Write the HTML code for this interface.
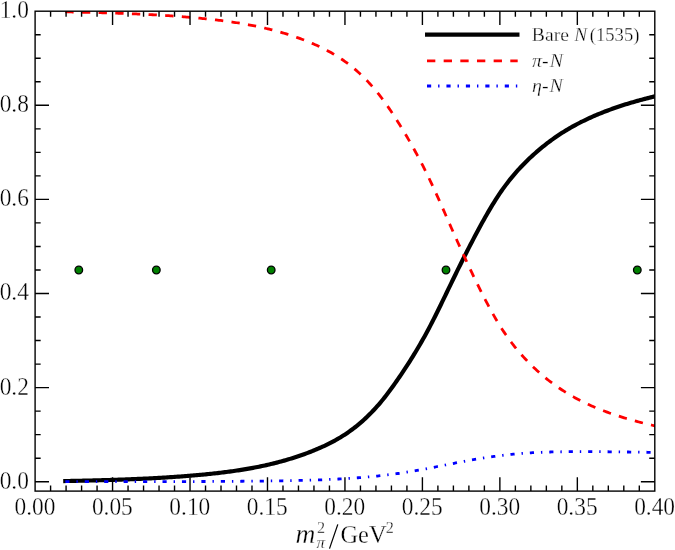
<!DOCTYPE html>
<html><head><meta charset="utf-8"><title>chart</title>
<style>
html,body{margin:0;padding:0;background:#fff;}
body{width:675px;height:550px;overflow:hidden;position:relative;font-family:"Liberation Serif",serif;}
svg{position:absolute;left:0;top:0;}
text{font-family:"Liberation Serif",serif;fill:#000;stroke:#fff;stroke-width:0.3px;}
.tl{font-size:24px;}
.lg{font-size:18.6px;}
i,.it{font-style:italic;}
</style></head><body>
<svg width="675" height="550" viewBox="0 0 675 550">
<rect x="0" y="0" width="675" height="550" fill="#ffffff"/>
<defs><clipPath id="ax"><rect x="35.10" y="11.20" width="619.70" height="479.90"/></clipPath></defs>

<g clip-path="url(#ax)" fill="none">
<path d="M65.30,481.07 L66.78,481.04 L68.26,481.01 L69.74,480.98 L71.21,480.94 L72.69,480.91 L74.17,480.88 L75.65,480.85 L77.13,480.81 L78.61,480.78 L80.08,480.74 L81.56,480.71 L83.04,480.68 L84.52,480.64 L86.00,480.61 L87.48,480.57 L88.96,480.53 L90.43,480.50 L91.91,480.46 L93.39,480.42 L94.87,480.38 L96.35,480.35 L97.83,480.31 L99.30,480.27 L100.78,480.23 L102.26,480.18 L103.74,480.14 L105.22,480.10 L106.70,480.06 L108.17,480.01 L109.65,479.97 L111.13,479.92 L112.61,479.88 L114.09,479.83 L115.57,479.78 L117.05,479.73 L118.52,479.68 L120.00,479.63 L121.48,479.58 L122.96,479.53 L124.44,479.47 L125.92,479.42 L127.39,479.36 L128.87,479.31 L130.35,479.25 L131.83,479.19 L133.31,479.13 L134.79,479.07 L136.27,479.00 L137.74,478.94 L139.22,478.88 L140.70,478.81 L142.18,478.74 L143.66,478.67 L145.14,478.60 L146.61,478.53 L148.09,478.46 L149.57,478.38 L151.05,478.31 L152.53,478.23 L154.01,478.15 L155.49,478.07 L156.96,477.99 L158.44,477.91 L159.92,477.82 L161.40,477.74 L162.88,477.65 L164.36,477.56 L165.83,477.47 L167.31,477.38 L168.79,477.28 L170.27,477.19 L171.75,477.09 L173.23,476.99 L174.71,476.89 L176.18,476.79 L177.66,476.68 L179.14,476.57 L180.62,476.47 L182.10,476.35 L183.58,476.24 L185.05,476.13 L186.53,476.01 L188.01,475.89 L189.49,475.77 L190.97,475.65 L192.45,475.53 L193.92,475.40 L195.40,475.27 L196.88,475.14 L198.36,475.01 L199.84,474.87 L201.32,474.73 L202.80,474.60 L204.27,474.45 L205.75,474.31 L207.23,474.16 L208.71,474.01 L210.19,473.86 L211.67,473.71 L213.14,473.55 L214.62,473.39 L216.10,473.23 L217.58,473.06 L219.06,472.89 L220.54,472.72 L222.02,472.54 L223.49,472.36 L224.97,472.18 L226.45,471.99 L227.93,471.80 L229.41,471.60 L230.89,471.40 L232.36,471.20 L233.84,470.99 L235.32,470.77 L236.80,470.56 L238.28,470.34 L239.76,470.11 L241.24,469.88 L242.71,469.64 L244.19,469.40 L245.67,469.15 L247.15,468.90 L248.63,468.65 L250.11,468.38 L251.58,468.12 L253.06,467.84 L254.54,467.56 L256.02,467.28 L257.50,466.99 L258.98,466.69 L260.45,466.39 L261.93,466.08 L263.41,465.76 L264.89,465.44 L266.37,465.11 L267.85,464.77 L269.33,464.43 L270.80,464.08 L272.28,463.73 L273.76,463.36 L275.24,462.99 L276.72,462.62 L278.20,462.23 L279.67,461.84 L281.15,461.44 L282.63,461.03 L284.11,460.62 L285.59,460.19 L287.07,459.76 L288.55,459.32 L290.02,458.87 L291.50,458.42 L292.98,457.95 L294.46,457.48 L295.94,457.00 L297.42,456.51 L298.89,456.01 L300.37,455.50 L301.85,454.99 L303.33,454.46 L304.81,453.93 L306.29,453.38 L307.77,452.83 L309.24,452.26 L310.72,451.69 L312.20,451.11 L313.68,450.52 L315.16,449.91 L316.64,449.30 L318.11,448.67 L319.59,448.04 L321.07,447.38 L322.55,446.72 L324.03,446.04 L325.51,445.35 L326.98,444.63 L328.46,443.91 L329.94,443.16 L331.42,442.40 L332.90,441.62 L334.38,440.82 L335.86,440.00 L337.33,439.16 L338.81,438.30 L340.29,437.42 L341.77,436.51 L343.25,435.58 L344.73,434.63 L346.20,433.65 L347.68,432.65 L349.16,431.62 L350.64,430.56 L352.12,429.48 L353.60,428.37 L355.08,427.23 L356.55,426.06 L358.03,424.86 L359.51,423.63 L360.99,422.37 L362.47,421.07 L363.95,419.75 L365.42,418.39 L366.90,416.99 L368.38,415.56 L369.86,414.10 L371.34,412.60 L372.82,411.06 L374.30,409.49 L375.77,407.87 L377.25,406.22 L378.73,404.53 L380.21,402.80 L381.69,401.02 L383.17,399.21 L384.64,397.36 L386.12,395.46 L387.60,393.54 L389.08,391.58 L390.56,389.58 L392.04,387.55 L393.52,385.50 L394.99,383.41 L396.47,381.30 L397.95,379.17 L399.43,377.01 L400.91,374.82 L402.39,372.62 L403.86,370.40 L405.34,368.15 L406.82,365.89 L408.30,363.59 L409.78,361.28 L411.26,358.93 L412.73,356.56 L414.21,354.16 L415.69,351.72 L417.17,349.26 L418.65,346.76 L420.13,344.23 L421.61,341.66 L423.08,339.05 L424.56,336.40 L426.04,333.72 L427.52,330.99 L429.00,328.22 L430.48,325.40 L431.95,322.55 L433.43,319.65 L434.91,316.72 L436.39,313.76 L437.87,310.78 L439.35,307.77 L440.83,304.74 L442.30,301.69 L443.78,298.64 L445.26,295.57 L446.74,292.50 L448.22,289.44 L449.70,286.37 L451.17,283.31 L452.65,280.27 L454.13,277.23 L455.61,274.21 L457.09,271.20 L458.57,268.20 L460.05,265.22 L461.52,262.25 L463.00,259.30 L464.48,256.36 L465.96,253.44 L467.44,250.54 L468.92,247.65 L470.39,244.78 L471.87,241.93 L473.35,239.10 L474.83,236.29 L476.31,233.49 L477.79,230.72 L479.26,227.98 L480.74,225.26 L482.22,222.57 L483.70,219.91 L485.18,217.28 L486.66,214.68 L488.14,212.12 L489.61,209.60 L491.09,207.12 L492.57,204.67 L494.05,202.28 L495.53,199.93 L497.01,197.62 L498.48,195.37 L499.96,193.17 L501.44,191.02 L502.92,188.92 L504.40,186.87 L505.88,184.87 L507.36,182.92 L508.83,181.02 L510.31,179.16 L511.79,177.34 L513.27,175.57 L514.75,173.83 L516.23,172.14 L517.70,170.48 L519.18,168.86 L520.66,167.27 L522.14,165.71 L523.62,164.19 L525.10,162.69 L526.58,161.23 L528.05,159.79 L529.53,158.37 L531.01,156.98 L532.49,155.62 L533.97,154.27 L535.45,152.95 L536.92,151.66 L538.40,150.39 L539.88,149.14 L541.36,147.91 L542.84,146.70 L544.32,145.52 L545.79,144.36 L547.27,143.21 L548.75,142.09 L550.23,140.99 L551.71,139.91 L553.19,138.85 L554.67,137.81 L556.14,136.78 L557.62,135.78 L559.10,134.79 L560.58,133.82 L562.06,132.87 L563.54,131.94 L565.01,131.02 L566.49,130.12 L567.97,129.24 L569.45,128.37 L570.93,127.52 L572.41,126.68 L573.89,125.86 L575.36,125.06 L576.84,124.27 L578.32,123.49 L579.80,122.73 L581.28,121.98 L582.76,121.24 L584.23,120.52 L585.71,119.80 L587.19,119.11 L588.67,118.42 L590.15,117.74 L591.63,117.08 L593.11,116.42 L594.58,115.78 L596.06,115.15 L597.54,114.53 L599.02,113.91 L600.50,113.31 L601.98,112.72 L603.45,112.13 L604.93,111.56 L606.41,110.99 L607.89,110.43 L609.37,109.88 L610.85,109.34 L612.33,108.81 L613.80,108.28 L615.28,107.77 L616.76,107.26 L618.24,106.76 L619.72,106.26 L621.20,105.78 L622.67,105.30 L624.15,104.83 L625.63,104.36 L627.11,103.90 L628.59,103.45 L630.07,103.01 L631.54,102.57 L633.02,102.14 L634.50,101.71 L635.98,101.29 L637.46,100.88 L638.94,100.47 L640.42,100.06 L641.89,99.67 L643.37,99.27 L644.85,98.88 L646.33,98.50 L647.81,98.12 L649.29,97.75 L650.76,97.38 L652.24,97.01 L653.72,96.65 L655.20,96.29" stroke="#000" stroke-width="4.17" stroke-linecap="square" stroke-linejoin="round"/>
<path d="M65.30,11.83 L66.78,11.87 L68.26,11.90 L69.74,11.94 L71.21,11.97 L72.69,12.01 L74.17,12.04 L75.65,12.08 L77.13,12.11 L78.61,12.15 L80.08,12.18 L81.56,12.22 L83.04,12.26 L84.52,12.29 L86.00,12.33 L87.48,12.37 L88.96,12.40 L90.43,12.44 L91.91,12.48 L93.39,12.52 L94.87,12.56 L96.35,12.60 L97.83,12.64 L99.30,12.68 L100.78,12.72 L102.26,12.76 L103.74,12.81 L105.22,12.85 L106.70,12.89 L108.17,12.94 L109.65,12.98 L111.13,13.03 L112.61,13.08 L114.09,13.13 L115.57,13.17 L117.05,13.22 L118.52,13.28 L120.00,13.33 L121.48,13.38 L122.96,13.43 L124.44,13.49 L125.92,13.54 L127.39,13.60 L128.87,13.66 L130.35,13.71 L131.83,13.77 L133.31,13.84 L134.79,13.90 L136.27,13.96 L137.74,14.03 L139.22,14.09 L140.70,14.16 L142.18,14.23 L143.66,14.30 L145.14,14.37 L146.61,14.44 L148.09,14.52 L149.57,14.59 L151.05,14.67 L152.53,14.75 L154.01,14.83 L155.49,14.91 L156.96,14.99 L158.44,15.08 L159.92,15.16 L161.40,15.25 L162.88,15.34 L164.36,15.43 L165.83,15.53 L167.31,15.62 L168.79,15.72 L170.27,15.82 L171.75,15.92 L173.23,16.02 L174.71,16.12 L176.18,16.23 L177.66,16.34 L179.14,16.45 L180.62,16.56 L182.10,16.68 L183.58,16.79 L185.05,16.91 L186.53,17.03 L188.01,17.15 L189.49,17.28 L190.97,17.41 L192.45,17.54 L193.92,17.67 L195.40,17.80 L196.88,17.94 L198.36,18.08 L199.84,18.22 L201.32,18.36 L202.80,18.51 L204.27,18.65 L205.75,18.80 L207.23,18.96 L208.71,19.11 L210.19,19.27 L211.67,19.44 L213.14,19.60 L214.62,19.77 L216.10,19.94 L217.58,20.12 L219.06,20.29 L220.54,20.48 L222.02,20.66 L223.49,20.85 L224.97,21.05 L226.45,21.24 L227.93,21.44 L229.41,21.65 L230.89,21.86 L232.36,22.08 L233.84,22.30 L235.32,22.52 L236.80,22.75 L238.28,22.98 L239.76,23.22 L241.24,23.47 L242.71,23.71 L244.19,23.97 L245.67,24.23 L247.15,24.49 L248.63,24.77 L250.11,25.04 L251.58,25.33 L253.06,25.61 L254.54,25.91 L256.02,26.21 L257.50,26.52 L258.98,26.83 L260.45,27.15 L261.93,27.48 L263.41,27.81 L264.89,28.15 L266.37,28.50 L267.85,28.85 L269.33,29.21 L270.80,29.58 L272.28,29.95 L273.76,30.34 L275.24,30.73 L276.72,31.13 L278.20,31.53 L279.67,31.95 L281.15,32.37 L282.63,32.80 L284.11,33.24 L285.59,33.69 L287.07,34.14 L288.55,34.61 L290.02,35.08 L291.50,35.57 L292.98,36.06 L294.46,36.56 L295.94,37.08 L297.42,37.60 L298.89,38.13 L300.37,38.67 L301.85,39.22 L303.33,39.78 L304.81,40.36 L306.29,40.94 L307.77,41.54 L309.24,42.14 L310.72,42.76 L312.20,43.38 L313.68,44.02 L315.16,44.67 L316.64,45.34 L318.11,46.01 L319.59,46.70 L321.07,47.41 L322.55,48.13 L324.03,48.87 L325.51,49.62 L326.98,50.40 L328.46,51.19 L329.94,52.00 L331.42,52.83 L332.90,53.68 L334.38,54.55 L335.86,55.44 L337.33,56.36 L338.81,57.30 L340.29,58.26 L341.77,59.25 L343.25,60.26 L344.73,61.31 L346.20,62.37 L347.68,63.47 L349.16,64.59 L350.64,65.75 L352.12,66.93 L353.60,68.15 L355.08,69.39 L356.55,70.67 L358.03,71.98 L359.51,73.32 L360.99,74.70 L362.47,76.12 L363.95,77.57 L365.42,79.05 L366.90,80.58 L368.38,82.14 L369.86,83.74 L371.34,85.38 L372.82,87.06 L374.30,88.78 L375.77,90.54 L377.25,92.35 L378.73,94.20 L380.21,96.09 L381.69,98.02 L383.17,100.01 L384.64,102.03 L386.12,104.10 L387.60,106.20 L389.08,108.35 L390.56,110.53 L392.04,112.74 L393.52,114.99 L394.99,117.28 L396.47,119.59 L397.95,121.94 L399.43,124.31 L400.91,126.71 L402.39,129.13 L403.86,131.58 L405.34,134.05 L406.82,136.55 L408.30,139.08 L409.78,141.64 L411.26,144.24 L412.73,146.86 L414.21,149.52 L415.69,152.21 L417.17,154.94 L418.65,157.70 L420.13,160.50 L421.61,163.35 L423.08,166.23 L424.56,169.15 L426.04,172.12 L427.52,175.13 L429.00,178.18 L430.48,181.28 L431.95,184.42 L433.43,187.60 L434.91,190.82 L436.39,194.07 L437.87,197.35 L439.35,200.65 L440.83,203.97 L442.30,207.31 L443.78,210.66 L445.26,214.02 L446.74,217.38 L448.22,220.73 L449.70,224.09 L451.17,227.44 L452.65,230.77 L454.13,234.10 L455.61,237.40 L457.09,240.70 L458.57,243.98 L460.05,247.24 L461.52,250.49 L463.00,253.72 L464.48,256.93 L465.96,260.12 L467.44,263.29 L468.92,266.45 L470.39,269.58 L471.87,272.69 L473.35,275.79 L474.83,278.85 L476.31,281.90 L477.79,284.92 L479.26,287.91 L480.74,290.88 L482.22,293.81 L483.70,296.71 L485.18,299.57 L486.66,302.40 L488.14,305.18 L489.61,307.93 L491.09,310.63 L492.57,313.28 L494.05,315.89 L495.53,318.44 L497.01,320.95 L498.48,323.40 L499.96,325.79 L501.44,328.13 L502.92,330.41 L504.40,332.63 L505.88,334.80 L507.36,336.92 L508.83,338.99 L510.31,341.00 L511.79,342.97 L513.27,344.89 L514.75,346.77 L516.23,348.60 L517.70,350.39 L519.18,352.13 L520.66,353.84 L522.14,355.51 L523.62,357.14 L525.10,358.74 L526.58,360.31 L528.05,361.85 L529.53,363.35 L531.01,364.83 L532.49,366.28 L533.97,367.70 L535.45,369.09 L536.92,370.46 L538.40,371.80 L539.88,373.11 L541.36,374.40 L542.84,375.66 L544.32,376.90 L545.79,378.11 L547.27,379.30 L548.75,380.47 L550.23,381.61 L551.71,382.73 L553.19,383.83 L554.67,384.91 L556.14,385.96 L557.62,387.00 L559.10,388.01 L560.58,389.00 L562.06,389.98 L563.54,390.93 L565.01,391.87 L566.49,392.79 L567.97,393.69 L569.45,394.57 L570.93,395.43 L572.41,396.28 L573.89,397.11 L575.36,397.92 L576.84,398.72 L578.32,399.50 L579.80,400.27 L581.28,401.02 L582.76,401.76 L584.23,402.48 L585.71,403.19 L587.19,403.89 L588.67,404.57 L590.15,405.24 L591.63,405.90 L593.11,406.55 L594.58,407.18 L596.06,407.81 L597.54,408.42 L599.02,409.02 L600.50,409.61 L601.98,410.19 L603.45,410.76 L604.93,411.32 L606.41,411.88 L607.89,412.42 L609.37,412.95 L610.85,413.48 L612.33,413.99 L613.80,414.50 L615.28,415.00 L616.76,415.49 L618.24,415.97 L619.72,416.44 L621.20,416.91 L622.67,417.37 L624.15,417.82 L625.63,418.26 L627.11,418.70 L628.59,419.13 L630.07,419.56 L631.54,419.97 L633.02,420.39 L634.50,420.79 L635.98,421.19 L637.46,421.58 L638.94,421.97 L640.42,422.36 L641.89,422.74 L643.37,423.11 L644.85,423.48 L646.33,423.84 L647.81,424.20 L649.29,424.56 L650.76,424.91 L652.24,425.26 L653.72,425.60 L655.20,425.95" stroke="#ff0000" stroke-width="2.78" stroke-dasharray="8.33 8.33" stroke-linejoin="round"/>
<path d="M65.30,481.70 L66.78,481.69 L68.26,481.69 L69.74,481.69 L71.21,481.68 L72.69,481.68 L74.17,481.68 L75.65,481.68 L77.13,481.68 L78.61,481.67 L80.08,481.67 L81.56,481.67 L83.04,481.67 L84.52,481.67 L86.00,481.66 L87.48,481.66 L88.96,481.66 L90.43,481.66 L91.91,481.66 L93.39,481.66 L94.87,481.66 L96.35,481.66 L97.83,481.65 L99.30,481.65 L100.78,481.65 L102.26,481.65 L103.74,481.65 L105.22,481.65 L106.70,481.65 L108.17,481.65 L109.65,481.65 L111.13,481.65 L112.61,481.65 L114.09,481.65 L115.57,481.64 L117.05,481.64 L118.52,481.64 L120.00,481.64 L121.48,481.64 L122.96,481.64 L124.44,481.64 L125.92,481.64 L127.39,481.64 L128.87,481.64 L130.35,481.64 L131.83,481.64 L133.31,481.64 L134.79,481.64 L136.27,481.63 L137.74,481.63 L139.22,481.63 L140.70,481.63 L142.18,481.63 L143.66,481.63 L145.14,481.63 L146.61,481.63 L148.09,481.63 L149.57,481.62 L151.05,481.62 L152.53,481.62 L154.01,481.62 L155.49,481.62 L156.96,481.62 L158.44,481.61 L159.92,481.61 L161.40,481.61 L162.88,481.61 L164.36,481.61 L165.83,481.60 L167.31,481.60 L168.79,481.60 L170.27,481.60 L171.75,481.59 L173.23,481.59 L174.71,481.59 L176.18,481.58 L177.66,481.58 L179.14,481.58 L180.62,481.57 L182.10,481.57 L183.58,481.57 L185.05,481.56 L186.53,481.56 L188.01,481.55 L189.49,481.55 L190.97,481.54 L192.45,481.54 L193.92,481.53 L195.40,481.53 L196.88,481.52 L198.36,481.52 L199.84,481.51 L201.32,481.51 L202.80,481.50 L204.27,481.49 L205.75,481.49 L207.23,481.48 L208.71,481.47 L210.19,481.46 L211.67,481.46 L213.14,481.45 L214.62,481.44 L216.10,481.43 L217.58,481.43 L219.06,481.42 L220.54,481.41 L222.02,481.40 L223.49,481.39 L224.97,481.38 L226.45,481.37 L227.93,481.36 L229.41,481.35 L230.89,481.34 L232.36,481.33 L233.84,481.32 L235.32,481.30 L236.80,481.29 L238.28,481.28 L239.76,481.27 L241.24,481.26 L242.71,481.24 L244.19,481.23 L245.67,481.22 L247.15,481.20 L248.63,481.19 L250.11,481.17 L251.58,481.16 L253.06,481.14 L254.54,481.13 L256.02,481.11 L257.50,481.10 L258.98,481.08 L260.45,481.06 L261.93,481.05 L263.41,481.03 L264.89,481.01 L266.37,480.99 L267.85,480.98 L269.33,480.96 L270.80,480.94 L272.28,480.92 L273.76,480.90 L275.24,480.88 L276.72,480.86 L278.20,480.84 L279.67,480.81 L281.15,480.79 L282.63,480.77 L284.11,480.75 L285.59,480.72 L287.07,480.70 L288.55,480.67 L290.02,480.64 L291.50,480.61 L292.98,480.59 L294.46,480.56 L295.94,480.53 L297.42,480.49 L298.89,480.46 L300.37,480.43 L301.85,480.39 L303.33,480.35 L304.81,480.32 L306.29,480.28 L307.77,480.24 L309.24,480.20 L310.72,480.15 L312.20,480.11 L313.68,480.06 L315.16,480.01 L316.64,479.96 L318.11,479.91 L319.59,479.86 L321.07,479.81 L322.55,479.75 L324.03,479.69 L325.51,479.63 L326.98,479.57 L328.46,479.51 L329.94,479.44 L331.42,479.37 L332.90,479.30 L334.38,479.23 L335.86,479.16 L337.33,479.08 L338.81,479.00 L340.29,478.92 L341.77,478.84 L343.25,478.75 L344.73,478.67 L346.20,478.58 L347.68,478.48 L349.16,478.39 L350.64,478.29 L352.12,478.19 L353.60,478.09 L355.08,477.98 L356.55,477.87 L358.03,477.76 L359.51,477.65 L360.99,477.53 L362.47,477.41 L363.95,477.29 L365.42,477.16 L366.90,477.03 L368.38,476.90 L369.86,476.76 L371.34,476.62 L372.82,476.48 L374.30,476.34 L375.77,476.19 L377.25,476.03 L378.73,475.88 L380.21,475.72 L381.69,475.55 L383.17,475.39 L384.64,475.22 L386.12,475.04 L387.60,474.86 L389.08,474.68 L390.56,474.49 L392.04,474.30 L393.52,474.11 L394.99,473.91 L396.47,473.70 L397.95,473.50 L399.43,473.29 L400.91,473.07 L402.39,472.85 L403.86,472.62 L405.34,472.39 L406.82,472.16 L408.30,471.92 L409.78,471.68 L411.26,471.43 L412.73,471.18 L414.21,470.93 L415.69,470.67 L417.17,470.40 L418.65,470.14 L420.13,469.87 L421.61,469.60 L423.08,469.32 L424.56,469.05 L426.04,468.77 L427.52,468.49 L429.00,468.20 L430.48,467.92 L431.95,467.63 L433.43,467.34 L434.91,467.05 L436.39,466.76 L437.87,466.47 L439.35,466.18 L440.83,465.89 L442.30,465.60 L443.78,465.30 L445.26,465.01 L446.74,464.72 L448.22,464.43 L449.70,464.14 L451.17,463.85 L452.65,463.56 L454.13,463.27 L455.61,462.99 L457.09,462.70 L458.57,462.42 L460.05,462.14 L461.52,461.86 L463.00,461.59 L464.48,461.31 L465.96,461.04 L467.44,460.77 L468.92,460.50 L470.39,460.24 L471.87,459.98 L473.35,459.72 L474.83,459.46 L476.31,459.21 L477.79,458.96 L479.26,458.71 L480.74,458.47 L482.22,458.22 L483.70,457.99 L485.18,457.75 L486.66,457.52 L488.14,457.30 L489.61,457.08 L491.09,456.86 L492.57,456.65 L494.05,456.44 L495.53,456.23 L497.01,456.03 L498.48,455.83 L499.96,455.64 L501.44,455.45 L502.92,455.27 L504.40,455.09 L505.88,454.92 L507.36,454.76 L508.83,454.59 L510.31,454.44 L511.79,454.29 L513.27,454.14 L514.75,454.00 L516.23,453.86 L517.70,453.74 L519.18,453.61 L520.66,453.49 L522.14,453.38 L523.62,453.27 L525.10,453.16 L526.58,453.06 L528.05,452.97 L529.53,452.88 L531.01,452.79 L532.49,452.71 L533.97,452.63 L535.45,452.55 L536.92,452.48 L538.40,452.41 L539.88,452.35 L541.36,452.29 L542.84,452.23 L544.32,452.18 L545.79,452.13 L547.27,452.08 L548.75,452.04 L550.23,452.00 L551.71,451.96 L553.19,451.92 L554.67,451.89 L556.14,451.86 L557.62,451.83 L559.10,451.80 L560.58,451.77 L562.06,451.75 L563.54,451.73 L565.01,451.71 L566.49,451.69 L567.97,451.68 L569.45,451.66 L570.93,451.65 L572.41,451.64 L573.89,451.63 L575.36,451.62 L576.84,451.61 L578.32,451.61 L579.80,451.60 L581.28,451.60 L582.76,451.60 L584.23,451.60 L585.71,451.60 L587.19,451.61 L588.67,451.61 L590.15,451.61 L591.63,451.62 L593.11,451.63 L594.58,451.64 L596.06,451.65 L597.54,451.66 L599.02,451.67 L600.50,451.68 L601.98,451.69 L603.45,451.70 L604.93,451.72 L606.41,451.73 L607.89,451.75 L609.37,451.77 L610.85,451.78 L612.33,451.80 L613.80,451.82 L615.28,451.84 L616.76,451.85 L618.24,451.87 L619.72,451.89 L621.20,451.91 L622.67,451.93 L624.15,451.95 L625.63,451.97 L627.11,451.99 L628.59,452.01 L630.07,452.04 L631.54,452.06 L633.02,452.08 L634.50,452.10 L635.98,452.12 L637.46,452.14 L638.94,452.16 L640.42,452.18 L641.89,452.20 L643.37,452.22 L644.85,452.24 L646.33,452.26 L647.81,452.28 L649.29,452.29 L650.76,452.31 L652.24,452.33 L653.72,452.34 L655.20,452.36" stroke="#0000ff" stroke-width="2.78" stroke-dasharray="4.17 6.94 1.39 6.94" stroke-linejoin="round"/>
</g>
<circle cx="78.8" cy="269.98" r="3.8" fill="#008000" stroke="#000" stroke-width="1.3"/>
<circle cx="156.35" cy="269.98" r="3.8" fill="#008000" stroke="#000" stroke-width="1.3"/>
<circle cx="271.2" cy="269.98" r="3.8" fill="#008000" stroke="#000" stroke-width="1.3"/>
<circle cx="446.0" cy="269.98" r="3.8" fill="#008000" stroke="#000" stroke-width="1.3"/>
<circle cx="637.3" cy="269.98" r="3.8" fill="#008000" stroke="#000" stroke-width="1.3"/>
<path d="M50.59,491.1v-5.56M50.59,11.2v5.56M66.08,491.1v-5.56M66.08,11.2v5.56M81.58,491.1v-5.56M81.58,11.2v5.56M97.07,491.1v-5.56M97.07,11.2v5.56M112.56,491.1v-13.9M112.56,11.2v13.9M128.05,491.1v-5.56M128.05,11.2v5.56M143.55,491.1v-5.56M143.55,11.2v5.56M159.04,491.1v-5.56M159.04,11.2v5.56M174.53,491.1v-5.56M174.53,11.2v5.56M190.02,491.1v-13.9M190.02,11.2v13.9M205.52,491.1v-5.56M205.52,11.2v5.56M221.01,491.1v-5.56M221.01,11.2v5.56M236.50,491.1v-5.56M236.50,11.2v5.56M251.99,491.1v-5.56M251.99,11.2v5.56M267.49,491.1v-13.9M267.49,11.2v13.9M282.98,491.1v-5.56M282.98,11.2v5.56M298.47,491.1v-5.56M298.47,11.2v5.56M313.96,491.1v-5.56M313.96,11.2v5.56M329.46,491.1v-5.56M329.46,11.2v5.56M344.95,491.1v-13.9M344.95,11.2v13.9M360.44,491.1v-5.56M360.44,11.2v5.56M375.94,491.1v-5.56M375.94,11.2v5.56M391.43,491.1v-5.56M391.43,11.2v5.56M406.92,491.1v-5.56M406.92,11.2v5.56M422.41,491.1v-13.9M422.41,11.2v13.9M437.90,491.1v-5.56M437.90,11.2v5.56M453.40,491.1v-5.56M453.40,11.2v5.56M468.89,491.1v-5.56M468.89,11.2v5.56M484.38,491.1v-5.56M484.38,11.2v5.56M499.87,491.1v-13.9M499.87,11.2v13.9M515.37,491.1v-5.56M515.37,11.2v5.56M530.86,491.1v-5.56M530.86,11.2v5.56M546.35,491.1v-5.56M546.35,11.2v5.56M561.85,491.1v-5.56M561.85,11.2v5.56M577.34,491.1v-13.9M577.34,11.2v13.9M592.83,491.1v-5.56M592.83,11.2v5.56M608.32,491.1v-5.56M608.32,11.2v5.56M623.81,491.1v-5.56M623.81,11.2v5.56M639.31,491.1v-5.56M639.31,11.2v5.56M35.1,481.70h13.9M654.8,481.70h-13.9M35.1,458.18h5.56M654.8,458.18h-5.56M35.1,434.65h5.56M654.8,434.65h-5.56M35.1,411.12h5.56M654.8,411.12h-5.56M35.1,387.60h13.9M654.8,387.60h-13.9M35.1,364.07h5.56M654.8,364.07h-5.56M35.1,340.55h5.56M654.8,340.55h-5.56M35.1,317.02h5.56M654.8,317.02h-5.56M35.1,293.50h13.9M654.8,293.50h-13.9M35.1,269.98h5.56M654.8,269.98h-5.56M35.1,246.45h5.56M654.8,246.45h-5.56M35.1,222.92h5.56M654.8,222.92h-5.56M35.1,199.40h13.9M654.8,199.40h-13.9M35.1,175.88h5.56M654.8,175.88h-5.56M35.1,152.35h5.56M654.8,152.35h-5.56M35.1,128.82h5.56M654.8,128.82h-5.56M35.1,105.30h13.9M654.8,105.30h-13.9M35.1,81.77h5.56M654.8,81.77h-5.56M35.1,58.25h5.56M654.8,58.25h-5.56M35.1,34.72h5.56M654.8,34.72h-5.56" stroke="#000" stroke-width="1.39" fill="none"/>
<rect x="35.1" y="11.2" width="619.70" height="479.90" fill="none" stroke="#000" stroke-width="1.39"/>
<g id="txt" opacity="0.999">
<text class="tl" transform="translate(34.90,514.8) scale(0.975,1.07)" text-anchor="middle">0.00</text>
<text class="tl" transform="translate(112.36,514.8) scale(0.975,1.07)" text-anchor="middle">0.05</text>
<text class="tl" transform="translate(189.82,514.8) scale(0.975,1.07)" text-anchor="middle">0.10</text>
<text class="tl" transform="translate(267.29,514.8) scale(0.975,1.07)" text-anchor="middle">0.15</text>
<text class="tl" transform="translate(344.75,514.8) scale(0.975,1.07)" text-anchor="middle">0.20</text>
<text class="tl" transform="translate(422.21,514.8) scale(0.975,1.07)" text-anchor="middle">0.25</text>
<text class="tl" transform="translate(499.67,514.8) scale(0.975,1.07)" text-anchor="middle">0.30</text>
<text class="tl" transform="translate(577.14,514.8) scale(0.975,1.07)" text-anchor="middle">0.35</text>
<text class="tl" transform="translate(654.60,514.8) scale(0.975,1.07)" text-anchor="middle">0.40</text>
<text class="tl" transform="translate(28.9,488.60) scale(0.975,1.07)" text-anchor="end">0.0</text>
<text class="tl" transform="translate(28.9,394.50) scale(0.975,1.07)" text-anchor="end">0.2</text>
<text class="tl" transform="translate(28.9,300.40) scale(0.975,1.07)" text-anchor="end">0.4</text>
<text class="tl" transform="translate(28.9,206.30) scale(0.975,1.07)" text-anchor="end">0.6</text>
<text class="tl" transform="translate(28.9,112.20) scale(0.975,1.07)" text-anchor="end">0.8</text>
<text class="tl" transform="translate(28.9,18.10) scale(0.975,1.07)" text-anchor="end">1.0</text>
<text font-size="26.5px" font-style="italic" transform="translate(295.6,542.6) scale(1.04,1)">m</text>
<text font-size="16.2px" transform="translate(317.0,533.3) scale(1,1.0)">2</text>
<text font-size="17px" font-style="italic" x="316.6" y="548.4">π</text>
<path d="M329.5,548.6L337.8,524.4" stroke="#000" stroke-width="1.25" fill="none"/>
<text font-size="25.2px" transform="translate(340.4,543.0) scale(0.97,1.03)">GeV</text>
<text font-size="16.2px" x="385.8" y="532.8">2</text>
<path d="M427.1,34.6H517.4" stroke="#000" stroke-width="4.17" stroke-linecap="square"/>
<path d="M427.0,60.9H517.7" stroke="#ff0000" stroke-width="2.78" stroke-dasharray="8.33 8.33"/>
<path d="M427.0,86.0H517.7" stroke="#0000ff" stroke-width="2.78" stroke-dasharray="4.17 6.94 1.39 6.94"/>
<text class="lg" transform="translate(531.8,41) scale(1.06,1)">Bare</text>
<text class="lg" font-style="italic" transform="translate(574.2,41) scale(1.04,1)">N</text>
<text class="lg" x="589.8" y="41">(1535)</text>
<text class="lg" transform="translate(532,67.3) scale(1.07,1)"><tspan font-style="italic">π</tspan>-<tspan font-style="italic" dx="1">N</tspan></text>
<text class="lg" transform="translate(532,92) scale(1.07,1)"><tspan font-style="italic">η</tspan>-<tspan font-style="italic" dx="1">N</tspan></text>
</g>
</svg></body></html>
